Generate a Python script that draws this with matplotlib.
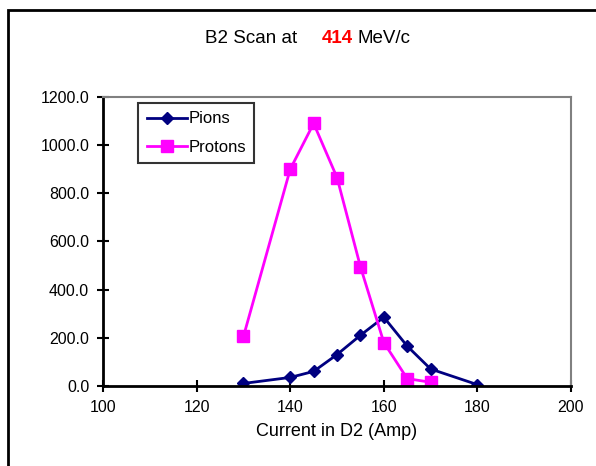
import matplotlib.pyplot as plt
from matplotlib.patches import Rectangle
from matplotlib.ticker import FormatStrFormatter

plt.rcParams['font.family'] = ['Liberation Sans', 'DejaVu Sans']

# data
pion_x = [130, 140, 145, 150, 155, 160, 165, 170, 180]
pion_y = [10, 35, 60, 130, 210, 285, 165, 70, 5]
proton_x = [130, 140, 145, 150, 155, 160, 165, 170]
proton_y = [205, 900, 1090, 865, 495, 180, 30, 15]

fig = plt.figure(figsize=(5.96, 4.66), dpi=100)
ax = fig.add_axes([0.173, 0.172, 0.785, 0.620])

# outer frame of the chart area
fig.patches.append(Rectangle((8 / 596, -0.1), 1.2, 1 - 10 / 466 + 0.1,
                             transform=fig.transFigure, fill=False,
                             edgecolor='black', linewidth=2))

ax.plot(pion_x, pion_y, color='#000080', marker='D', markersize=6,
        linewidth=2, label='Pions')
ax.plot(proton_x, proton_y, color='#ff00ff', marker='s', markersize=8,
        linewidth=2, label='Protons')

ax.set_xlim(100, 200)
ax.set_ylim(0, 1200)
ax.set_xticks(range(100, 201, 20))
ax.set_yticks(range(0, 1201, 200))
ax.yaxis.set_major_formatter(FormatStrFormatter('%.1f'))
ax.tick_params(direction='inout', length=8, width=1.5, labelsize=11.5, pad=6)

for s in ['left', 'bottom']:
    ax.spines[s].set_linewidth(2)
    ax.spines[s].set_color('black')
for s in ['top', 'right']:
    ax.spines[s].set_linewidth(1.5)
    ax.spines[s].set_color('#808080')

ax.set_xlabel('Current in D2 (Amp)', fontsize=13, labelpad=6)

leg = ax.legend(loc='upper left', bbox_to_anchor=(0.068, 0.99), fontsize=12,
                frameon=True, fancybox=False, handlelength=2.4,
                borderpad=0.5, labelspacing=0.8, handletextpad=0.1,
                borderaxespad=0.2)
leg.get_frame().set_edgecolor('black')
leg.get_frame().set_linewidth(1.5)

# title with red number
fig.text(0.498, 0.918, 'B2 Scan at', ha='right', va='center', fontsize=13.5)
fig.text(0.540, 0.918, '414', ha='left', va='center', fontsize=13.5,
         color='red', fontweight='bold')
fig.text(0.599, 0.918, 'MeV/c', ha='left', va='center', fontsize=13.5)

fig.savefig('out.png', dpi=100)
